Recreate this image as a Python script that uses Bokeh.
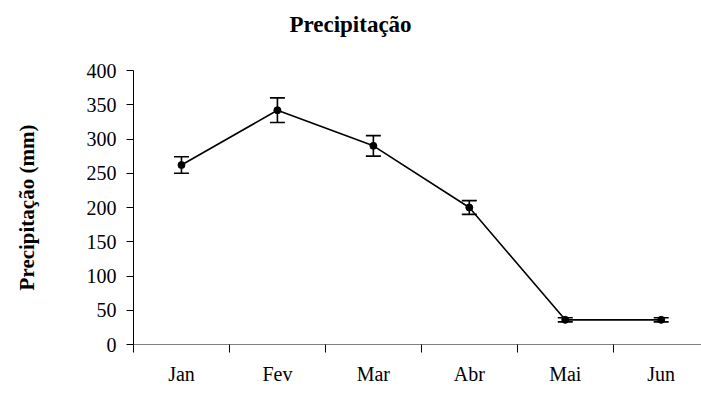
from bokeh.plotting import figure
from bokeh.layouts import column
from bokeh.models import Range1d, FixedTicker, Whisker, ColumnDataSource, Div
from bokeh.embed import file_html
from bokeh.resources import INLINE

months = ["Jan", "Fev", "Mar", "Abr", "Mai", "Jun"]
precip = [262, 342, 290, 200, 36, 36]
err = [12, 18, 15, 10, 3, 3]
y_ticks = [0, 50, 100, 150, 200, 250, 300, 350, 400]
title_text = "Precipitação"

xs = [i + 0.5 for i in range(len(months))]
src = ColumnDataSource(dict(
    x=xs, y=precip,
    upper=[v + e for v, e in zip(precip, err)],
    lower=[v - e for v, e in zip(precip, err)],
))

FONT = "Liberation Serif"

title = Div(
    text=('<div style="width:701px;text-align:center;font-family:\'Liberation Serif\';'
          'font-weight:bold;font-size:23px;line-height:50px;color:black;">'
          + title_text + '</div>'),
    width=701, height=50, margin=(0, 0, 0, 0))

p = figure(width=701, height=346, output_backend="svg", toolbar_location=None,
           x_range=Range1d(0, 5.92), y_range=Range1d(0, 400),
           min_border_left=133, min_border_right=0, min_border_top=20,
           min_border_bottom=52, margin=(0, 0, 0, 0))
p.outline_line_color = None
p.grid.grid_line_color = None
p.background_fill_color = "white"
p.border_fill_color = "white"

p.xaxis.ticker = FixedTicker(ticks=xs, minor_ticks=list(range(len(months) + 1)))
p.xaxis.major_label_overrides = {x: m for x, m in zip(xs, months)}
p.xaxis.major_tick_out = 0
p.xaxis.major_tick_in = 0
p.xaxis.minor_tick_out = 8
p.xaxis.minor_tick_in = 0
p.xaxis.major_label_standoff = 10
p.xaxis.axis_line_color = "#808080"
p.xaxis.minor_tick_line_color = "black"

p.yaxis.ticker = FixedTicker(ticks=y_ticks)
p.yaxis.minor_tick_line_color = None
p.yaxis.major_tick_out = 7
p.yaxis.major_tick_in = 0
p.yaxis.major_label_standoff = 10
p.yaxis.axis_label = "Precipitação (mm)"
p.yaxis.axis_label_text_font = FONT
p.yaxis.axis_label_text_font_style = "bold"
p.yaxis.axis_label_text_font_size = "21px"
p.yaxis.axis_label_text_color = "black"
p.yaxis.axis_label_standoff = 45
p.yaxis.axis_line_color = "black"

for ax in (p.xaxis, p.yaxis):
    ax.major_label_text_font = FONT
    ax.major_label_text_font_size = "20px"
    ax.major_label_text_color = "black"
    ax.major_tick_line_color = "black"

p.line("x", "y", source=src, line_color="black", line_width=1.6)
p.scatter("x", "y", source=src, size=7, color="black")
w = Whisker(base="x", upper="upper", lower="lower", source=src,
            line_color="black", line_width=1.6)
w.upper_head.size = 15
w.lower_head.size = 15
w.upper_head.line_width = 1.6
w.lower_head.line_width = 1.6
p.add_layout(w)

layout = column(title, p, spacing=0, margin=(0, 0, 0, 0))
open("out.html", "w").write(file_html(layout, INLINE))
